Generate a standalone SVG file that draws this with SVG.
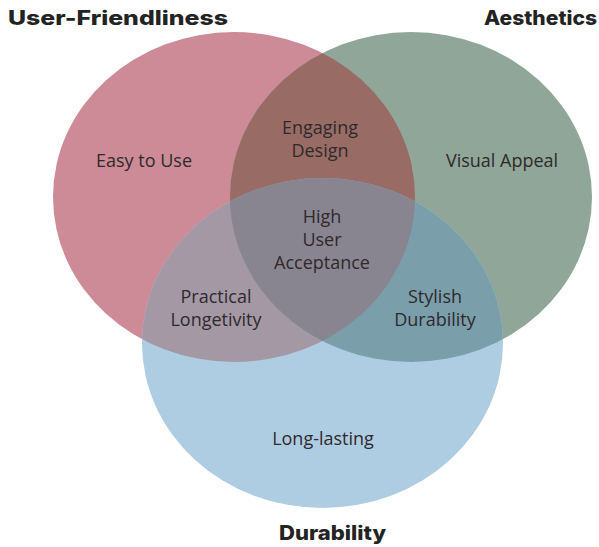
<svg xmlns="http://www.w3.org/2000/svg" width="599" height="547" viewBox="0 0 599 547">
<style>
.title{font-family:Inter,"Open Sans","Liberation Sans",sans-serif;font-weight:800;font-size:20px;fill:#232323}
.lbl{font-family:"Open Sans","Noto Sans","Liberation Sans",sans-serif;font-size:18px;fill:#2e2a2c;text-anchor:middle}
</style>
<defs>
<ellipse id="eR" cx="234" cy="197" rx="181" ry="165"/>
<ellipse id="eG" cx="411" cy="197" rx="181" ry="165"/>
<ellipse id="eB" cx="322.5" cy="343" rx="180.5" ry="165"/>
<clipPath id="cR"><use href="#eR"/></clipPath>
<clipPath id="cG"><use href="#eG"/></clipPath>
<clipPath id="cRG" clip-path="url(#cR)"><use href="#eG"/></clipPath>
</defs>
<rect width="599" height="547" fill="#ffffff"/>
<g id="circles">
<g id="user-friendliness-set"><use href="#eR" fill="#CD8B97"/></g>
<g id="aesthetics-set"><use href="#eG" fill="#8FA699"/></g>
<g id="durability-set"><use href="#eB" fill="#AECDE3"/></g>
<g id="engaging-design-region"><use href="#eG" fill="#986C65" clip-path="url(#cR)"/></g>
<g id="practical-longetivity-region"><use href="#eB" fill="#A598A5" clip-path="url(#cR)"/></g>
<g id="stylish-durability-region"><use href="#eB" fill="#7A9FAA" clip-path="url(#cG)"/></g>
<g id="high-user-acceptance-region"><use href="#eB" fill="#898590" clip-path="url(#cRG)"/></g>
</g>
<g id="connectors"/>
<g id="titles">
<text class="title" x="8" y="25" textLength="220" lengthAdjust="spacingAndGlyphs">User-Friendliness</text>
<text class="title" x="484" y="25" textLength="113" lengthAdjust="spacingAndGlyphs">Aesthetics</text>
<text class="title" x="279" y="540" textLength="107" lengthAdjust="spacingAndGlyphs">Durability</text>
</g>
<g id="labels">
<text class="lbl" x="144" y="167">Easy to Use</text>
<text class="lbl" x="502" y="167">Visual Appeal</text>
<text class="lbl" x="320" y="134">Engaging</text>
<text class="lbl" x="320" y="157">Design</text>
<text class="lbl" x="322" y="223">High</text>
<text class="lbl" x="322" y="246">User</text>
<text class="lbl" x="322" y="269">Acceptance</text>
<text class="lbl" x="216" y="303">Practical</text>
<text class="lbl" x="216" y="326">Longetivity</text>
<text class="lbl" x="435" y="303">Stylish</text>
<text class="lbl" x="435" y="326">Durability</text>
<text class="lbl" x="323" y="445">Long-lasting</text>
</g>
</svg>
